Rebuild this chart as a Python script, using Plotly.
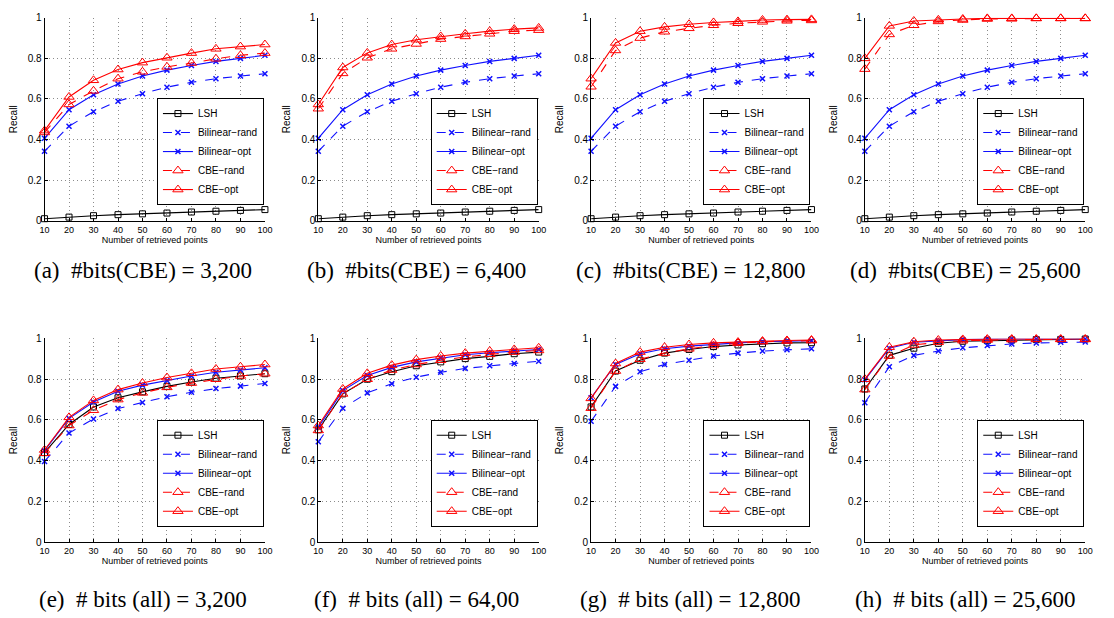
import plotly.graph_objects as go

x_points = [10, 20, 30, 40, 50, 60, 70, 80, 90, 100]
series_names = ["LSH", "Bilinear−rand", "Bilinear−opt", "CBE−rand", "CBE−opt"]

# Top row: #bits(CBE) fixed
lsh_top = [0.010, 0.018, 0.025, 0.030, 0.034, 0.038, 0.043, 0.047, 0.051, 0.055]
bil_rand_top = [0.342, 0.466, 0.537, 0.589, 0.626, 0.658, 0.682, 0.700, 0.713, 0.724]
bil_opt_top = [0.406, 0.547, 0.621, 0.674, 0.713, 0.742, 0.765, 0.785, 0.800, 0.815]

cbe_rand_a = [0.435, 0.573, 0.640, 0.700, 0.734, 0.758, 0.777, 0.798, 0.815, 0.826]
cbe_opt_a = [0.444, 0.610, 0.692, 0.745, 0.779, 0.803, 0.826, 0.847, 0.858, 0.868]
cbe_rand_b = [0.552, 0.726, 0.803, 0.847, 0.871, 0.895, 0.908, 0.921, 0.934, 0.939]
cbe_opt_b = [0.573, 0.755, 0.827, 0.868, 0.892, 0.908, 0.921, 0.934, 0.944, 0.950]
cbe_rand_c = [0.660, 0.839, 0.900, 0.931, 0.948, 0.963, 0.973, 0.980, 0.985, 0.987]
cbe_opt_c = [0.700, 0.876, 0.934, 0.955, 0.968, 0.977, 0.982, 0.989, 0.991, 0.992]
cbe_rand_d = [0.747, 0.918, 0.963, 0.982, 0.989, 0.994, 0.995, 0.997, 0.997, 0.997]
cbe_opt_d = [0.800, 0.960, 0.984, 0.990, 0.994, 0.997, 0.997, 0.997, 0.997, 0.997]

# Bottom row: #bits (all) fixed
lsh_e = [0.440, 0.578, 0.664, 0.709, 0.738, 0.765, 0.786, 0.805, 0.816, 0.827]
bil_rand_e = [0.397, 0.536, 0.605, 0.656, 0.686, 0.714, 0.736, 0.754, 0.766, 0.779]
bil_opt_e = [0.450, 0.608, 0.688, 0.741, 0.771, 0.794, 0.816, 0.834, 0.845, 0.856]
cbe_rand_e = [0.437, 0.573, 0.648, 0.700, 0.733, 0.760, 0.781, 0.800, 0.816, 0.827]
cbe_opt_e = [0.453, 0.613, 0.696, 0.749, 0.781, 0.808, 0.829, 0.850, 0.861, 0.872]

lsh_f = [0.552, 0.728, 0.800, 0.837, 0.866, 0.885, 0.901, 0.912, 0.925, 0.933]
bil_rand_f = [0.493, 0.658, 0.733, 0.778, 0.810, 0.834, 0.853, 0.866, 0.877, 0.888]
bil_opt_f = [0.565, 0.744, 0.818, 0.858, 0.885, 0.904, 0.920, 0.930, 0.938, 0.946]
cbe_rand_f = [0.549, 0.728, 0.800, 0.845, 0.872, 0.893, 0.909, 0.922, 0.933, 0.941]
cbe_opt_f = [0.573, 0.752, 0.829, 0.869, 0.896, 0.914, 0.928, 0.938, 0.946, 0.954]

lsh_g = [0.664, 0.840, 0.893, 0.928, 0.946, 0.960, 0.968, 0.974, 0.978, 0.979]
bil_rand_g = [0.594, 0.765, 0.837, 0.872, 0.893, 0.914, 0.928, 0.938, 0.944, 0.949]
bil_opt_g = [0.709, 0.872, 0.925, 0.949, 0.962, 0.971, 0.978, 0.984, 0.987, 0.989]
cbe_rand_g = [0.658, 0.840, 0.898, 0.928, 0.949, 0.965, 0.976, 0.984, 0.987, 0.989]
cbe_opt_g = [0.706, 0.877, 0.933, 0.957, 0.970, 0.978, 0.982, 0.987, 0.990, 0.992]

lsh_h = [0.752, 0.917, 0.952, 0.976, 0.986, 0.989, 0.992, 0.994, 0.995, 0.997]
bil_rand_h = [0.685, 0.861, 0.917, 0.938, 0.954, 0.965, 0.973, 0.978, 0.981, 0.982]
bil_opt_h = [0.797, 0.952, 0.981, 0.989, 0.994, 0.997, 0.997, 0.997, 0.997, 0.997]
cbe_rand_h = [0.749, 0.914, 0.968, 0.981, 0.989, 0.992, 0.994, 0.995, 0.995, 0.995]
cbe_opt_h = [0.800, 0.957, 0.984, 0.992, 0.995, 0.997, 0.997, 0.997, 0.997, 0.997]

panels = [
    [lsh_top, bil_rand_top, bil_opt_top, cbe_rand_a, cbe_opt_a],
    [lsh_top, bil_rand_top, bil_opt_top, cbe_rand_b, cbe_opt_b],
    [lsh_top, bil_rand_top, bil_opt_top, cbe_rand_c, cbe_opt_c],
    [lsh_top, bil_rand_top, bil_opt_top, cbe_rand_d, cbe_opt_d],
    [lsh_e, bil_rand_e, bil_opt_e, cbe_rand_e, cbe_opt_e],
    [lsh_f, bil_rand_f, bil_opt_f, cbe_rand_f, cbe_opt_f],
    [lsh_g, bil_rand_g, bil_opt_g, cbe_rand_g, cbe_opt_g],
    [lsh_h, bil_rand_h, bil_opt_h, cbe_rand_h, cbe_opt_h],
]
captions = [
    "(a)  #bits(CBE) = 3,200", "(b)  #bits(CBE) = 6,400",
    "(c)  #bits(CBE) = 12,800", "(d)  #bits(CBE) = 25,600",
    "(e)  # bits (all) = 3,200", "(f)  # bits (all) = 64,00",
    "(g)  # bits (all) = 12,800", "(h)  # bits (all) = 25,600",
]
y_ticks = [0, 0.2, 0.4, 0.6, 0.8, 1]
y_tick_text = ["0", "0.2", "0.4", "0.6", "0.8", "1"]

W, H = 1114, 618
x_px = [(40, 263), (317, 540), (593, 816), (870, 1093)]
y_px = [(12, 219), (339, 547)]
caption_cx = [140, 416, 694, 972]
caption_cy = [270, 605]


def fx(px):
    return px / W


def fy(px):
    return 1 - px / H


styles = [
    dict(color="black", dash="solid", symbol="square-open", size=6, mlw=1),
    dict(color="#1010ff", dash="dash", symbol="x-thin", size=5, mlw=1.5),
    dict(color="#1010ff", dash="solid", symbol="x-thin", size=5, mlw=1.5),
    dict(color="#ff0000", dash="dash", symbol="triangle-up-open", size=9, mlw=1),
    dict(color="#ff0000", dash="solid", symbol="triangle-up-open", size=9, mlw=1),
]

fig = go.Figure()
sans = "Liberation Sans, Arial, sans-serif"
tick_font = dict(family=sans, size=9, color="black")
for i, data in enumerate(panels):
    r, c = divmod(i, 4)
    n = i + 1
    xa = "x" if n == 1 else f"x{n}"
    ya = "y" if n == 1 else f"y{n}"
    lg = "legend" if n == 1 else f"legend{n}"
    for name, vals, st in zip(series_names, data, styles):
        fig.add_trace(go.Scatter(
            x=x_points, y=vals, name=name, mode="lines+markers",
            xaxis=xa, yaxis=ya, legend=lg, cliponaxis=False,
            line=dict(color=st["color"], dash=st["dash"], width=1.1),
            marker=dict(symbol=st["symbol"], size=st["size"], color=st["color"],
                        line=dict(color=st["color"], width=st["mlw"])),
        ))
    x0, x1 = x_px[c]
    y0, y1 = y_px[r]
    xkey = "xaxis" if n == 1 else f"xaxis{n}"
    ykey = "yaxis" if n == 1 else f"yaxis{n}"
    fig.layout[xkey] = dict(
        domain=[fx(x0), fx(x1)], anchor=ya, range=[10, 100],
        tickvals=x_points, ticks="inside", ticklen=3, tickcolor="black",
        showline=True, linecolor="black", linewidth=1,
        showgrid=True, gridcolor="#8c8c8c", griddash="1px,3px", gridwidth=1,
        zeroline=False, tickfont=tick_font,
        title=dict(text="Number of retrieved points", font=tick_font, standoff=2),
    )
    fig.layout[ykey] = dict(
        domain=[fy(y1), fy(y0)], anchor=xa, range=[0, 1],
        tickvals=y_ticks, ticktext=y_tick_text, ticks="inside", ticklen=3,
        tickcolor="black", showline=True, linecolor="black", linewidth=1,
        showgrid=True, gridcolor="#8c8c8c", griddash="1px,3px", gridwidth=1,
        zeroline=False, tickfont=dict(family=sans, size=10, color="black"),
        title=dict(text="Recall", font=dict(family=sans, size=10, color="black"), standoff=8),
    )
    fig.layout[lg] = dict(
        x=fx(x1 - 1), y=fy(y1 - 16), xanchor="right", yanchor="bottom",
        bgcolor="white", bordercolor="black", borderwidth=1,
        font=dict(family=sans, size=10, color="black"),
        tracegroupgap=0, itemwidth=30,
    )
    fig.add_annotation(
        text=captions[i], xref="paper", yref="paper",
        x=fx(caption_cx[c]), y=fy(caption_cy[r]), showarrow=False,
        xanchor="center", yanchor="middle",
        font=dict(family="Liberation Serif, Times New Roman, serif", size=23, color="black"),
    )

fig.update_layout(
    width=W, height=H, margin=dict(l=0, r=0, t=0, b=0),
    plot_bgcolor="white", paper_bgcolor="white", showlegend=True,
    hovermode=False,
)
fig.write_html(
    "out.html",
    config={"displayModeBar": False},
    post_script="document.body.style.margin='0';document.body.style.overflow='hidden';",
)
